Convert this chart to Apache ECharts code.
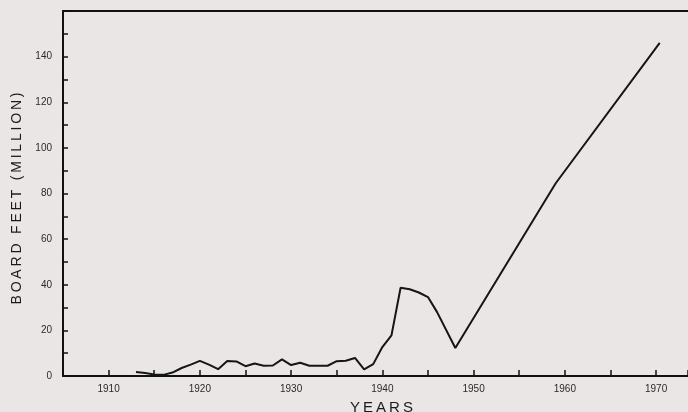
<!DOCTYPE html>
<html>
<head>
<meta charset="utf-8">
<script src="https://cdn.jsdelivr.net/npm/echarts@6/dist/echarts.min.js"></script>
<style>
* { margin: 0; padding: 0; }
body { background: #ebe6e6; }
</style>
</head>
<body>
<div id="main" style="width: 688px;height: 412px;"></div>
<script>
// years and board feet (million)
var years = [1913, 1914, 1915, 1916, 1917, 1918, 1919, 1920, 1921, 1922,
  1923, 1924, 1925, 1926, 1927, 1928, 1929, 1930, 1931, 1932,
  1933, 1934, 1935, 1936, 1937, 1938, 1939, 1940, 1941, 1942,
  1943, 1944, 1945, 1946, 1948, 1959, 1970.4];
var boardFeet = [1.8, 1.3, 0.7, 0.5, 1.5, 3.5, 5, 6.6, 5, 3,
  6.6, 6.4, 4.3, 5.5, 4.5, 4.6, 7.3, 4.8, 5.8, 4.5,
  4.5, 4.5, 6.5, 6.7, 7.9, 2.9, 5.2, 12.7, 17.8, 38.7,
  38, 36.6, 34.6, 28, 12.3, 84.5, 146];

var yTickLabels = [0, 20, 40, 60, 80, 100, 120, 140];
var xTickLabels = [1910, 1920, 1930, 1940, 1950, 1960, 1970];

var points = years.map(function (y, i) { return [y, boardFeet[i]]; });

// spread letters a bit, like the old typed captions
function spaced(s) {
  return s.split('').join('\u2009');
}

var chart = echarts.init(document.getElementById('main'));
chart.setOption({
  backgroundColor: '#ebe6e6',
  animation: false,
  textStyle: { fontFamily: 'Liberation Sans' },
  grid: { left: 63, top: 11, right: 0, bottom: 36, outerBoundsMode: 'none', containLabel: false },
  xAxis: [{
    type: 'value',
    min: 1905,
    max: 1973.5,
    interval: 5,
    splitLine: { show: false },
    axisLine: { lineStyle: { color: '#111', width: 2 } },
    axisTick: { inside: true, length: 6, lineStyle: { color: '#111', width: 1.5 } },
    axisLabel: {
      color: '#2a2a2a', fontSize: 10, margin: 8,
      formatter: function (v) { return xTickLabels.indexOf(v) >= 0 ? String(v) : ''; }
    },
    name: spaced('YEARS'),
    nameLocation: 'middle',
    nameGap: 24,
    nameTextStyle: { color: '#1a1a1a', fontSize: 15, padding: [0, 0, 0, 12] }
  }, {
    type: 'value',
    position: 'top',
    min: 1905,
    max: 1973.5,
    splitLine: { show: false },
    axisLine: { lineStyle: { color: '#111', width: 2 } },
    axisTick: { show: false },
    axisLabel: { show: false }
  }],
  yAxis: {
    type: 'value',
    min: 0,
    max: 160,
    interval: 10,
    splitLine: { show: false },
    axisLine: { show: true, lineStyle: { color: '#111', width: 2 } },
    axisTick: { show: true, inside: true, length: 5, lineStyle: { color: '#111', width: 1.5 } },
    axisLabel: {
      color: '#2a2a2a', fontSize: 10, margin: 11,
      formatter: function (v) { return yTickLabels.indexOf(v) >= 0 ? String(v) : ''; }
    },
    name: spaced('BOARD FEET (MILLION)'),
    nameLocation: 'middle',
    nameGap: 38,
    nameTextStyle: { color: '#1a1a1a', fontSize: 14, padding: [0, 0, 0, -10] }
  },
  series: [{
    type: 'line',
    data: points,
    showSymbol: false,
    symbol: 'none',
    lineStyle: { color: '#151515', width: 2 }
  }]
});
</script>
</body>
</html>
